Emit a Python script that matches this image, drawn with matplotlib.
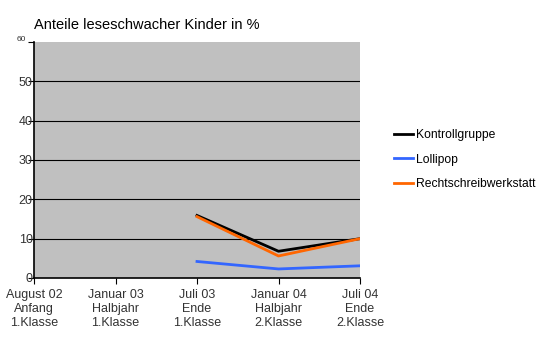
import matplotlib.pyplot as plt

plt.rcParams['font.family'] = ['Liberation Sans', 'DejaVu Sans']

zeitpunkte = ["August 02\nAnfang\n1.Klasse", "Januar 03\nHalbjahr\n1.Klasse",
              "Juli 03\nEnde\n1.Klasse", "Januar 04\nHalbjahr\n2.Klasse",
              "Juli 04\nEnde\n2.Klasse"]
# Messungen liegen erst ab Juli 03 vor
x_mess = [2, 3, 4]
kontrollgruppe = [15.9, 6.8, 10.0]
lollipop = [4.2, 2.3, 3.1]
rechtschreibwerkstatt = [15.6, 5.6, 10.0]

fig = plt.figure(figsize=(5.5, 3.43), dpi=100)
ax = fig.add_axes([34 / 550, 1 - 278 / 343, 326 / 550, 236 / 343])
ax.set_facecolor('#C0C0C0')

ax.plot(x_mess, kontrollgruppe, color='black', lw=2, label='Kontrollgruppe')
ax.plot(x_mess, lollipop, color='#3366FF', lw=2, label='Lollipop')
ax.plot(x_mess, rechtschreibwerkstatt, color='#FF6600', lw=2,
        label='Rechtschreibwerkstatt')

ax.set_xlim(0, 4)
ax.set_ylim(0, 60)
ax.set_xticks(range(5))
ax.set_xticklabels(zeitpunkte, fontsize=9, color='#333333', linespacing=1.2)
ax.set_yticks([0, 10, 20, 30, 40, 50, 60])
ax.set_yticklabels(['0', '10', '20', '30', '40', '50', ''], fontsize=9,
                   color='#333333')
ax.text(-0.1, 59.8, '60', fontsize=6, ha='right', va='bottom',
        color='#333333')
for y in [10, 20, 30, 40, 50]:
    ax.axhline(y, color='black', lw=0.8, zorder=0.5)

ax.tick_params(axis='y', length=4, pad=-3, direction='out')
ax.tick_params(axis='x', length=4, pad=4, direction='out')
for s in ['top', 'right']:
    ax.spines[s].set_visible(False)
ax.spines['left'].set_linewidth(1.2)
ax.spines['bottom'].set_linewidth(1.2)

fig.text(34 / 550, 1 - 25 / 343, 'Anteile leseschwacher Kinder in %',
         fontsize=10.5, va='center', ha='left')

leg = fig.legend(loc='upper left', bbox_to_anchor=(383 / 550, 1 - 118 / 343),
                 frameon=False, fontsize=8.7, handlelength=1.6,
                 handletextpad=0.2, labelspacing=1.05)

fig.savefig('out.png', dpi=100)
